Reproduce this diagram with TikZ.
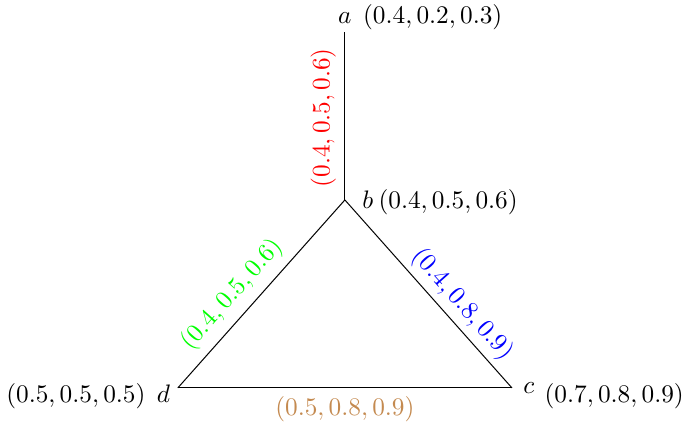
\documentclass[tikz,border=0pt]{standalone}
\usetikzlibrary{positioning}
\definecolor{edgebrown}{RGB}{196,138,80}

\begin{document}
\begin{tikzpicture}[edgelab/.style={sloped,above}]
\useasboundingbox (0,0) rectangle (9.5,5.917);
% 顶点
\coordinate (a) at (4.79,5.47);
\coordinate (b) at (4.79,3.14);
\coordinate (d) at (2.47,0.53);
\coordinate (c) at (7.11,0.53);
% 边及其标注
\draw (b) -- node[edgelab,pos=0.49,text=red] (lab) {$(0.4, 0.5, 0.6)$} (a);
\draw (d) -- node[edgelab,pos=0.42,text=green] (lbd) {$(0.4, 0.5, 0.6)$} (b);
\draw (b) -- node[edgelab,pos=0.62,inner sep=2pt,text=blue] (lbc) {$(0.4, 0.8, 0.9)$} (c);
\draw (d) -- node[below,text=edgebrown] (ldc) {$(0.5, 0.8, 0.9)$} (c);
% 顶点名
\node[above] (na) at (a) {$a$};
\node[right=3.4pt of b] (nb) {$b$};
\node[left=-0.5pt of d,yshift=-2.4pt] (nd) {$d$};
\node[right=1pt of c] (nc) {$c$};
% 顶点取值
\node[base right=-2.5pt of na] (va) {$(0.4, 0.2, 0.3)$};
\node[base right=-5pt of nb] (vb) {$(0.4, 0.5, 0.6)$};
\node[base left=-2.5pt of nd] (vd) {$(0.5, 0.5, 0.5)$};
\node[right=-3pt of nc,yshift=-3.1pt] (vc) {$(0.7, 0.8, 0.9)$};
\end{tikzpicture}
\end{document}
